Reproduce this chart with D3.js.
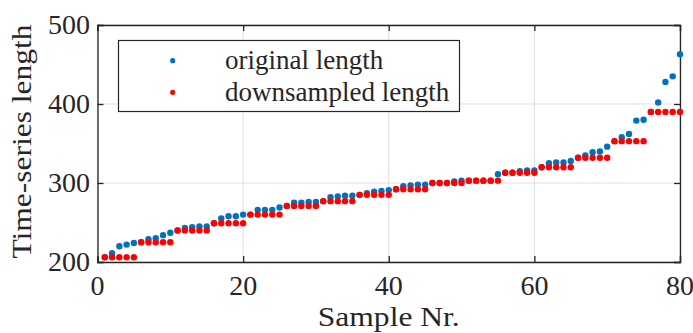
<!DOCTYPE html>
<html><head><meta charset="utf-8">
<script src="https://cdn.jsdelivr.net/npm/d3@7"></script>
<style>
body{margin:0;background:#fff;}
svg{display:block;}
text{font-family:"Liberation Serif","Times New Roman",serif;fill:#262626;}
</style></head>
<body>
<svg id="chart" width="693" height="333"></svg>
<script>
const sampleNr = d3.range(1, 81);
const originalLength = [206,211,220,222,224,225,229,230,234,237,
  240,243,244,245,245,249,255,258,258,260,
  260,266,266,266,269,271,275,275,276,276,
  277,282,283,284,284,285,287,289,290,291,
  292,296,297,298,298,300,300,300,302,303,
  303,303,303,303,311,313,313,315,316,316,
  320,325,326,326,328,332,335,339,340,346,
  353,358,362,379,380,390,402,428,435,463];
const downsampledLength = [206,206,206,206,206,225,225,225,225,225,
  240,240,240,240,240,249,249,249,249,249,
  260,260,260,260,260,271,271,271,271,271,
  277,277,277,277,277,285,285,285,285,285,
  292,292,292,292,292,300,300,300,300,300,
  303,303,303,303,303,313,313,313,313,313,
  320,320,320,320,320,332,332,332,332,332,
  353,353,353,353,353,390,390,390,390,390];
const xTicks = [0,20,40,60,80];
const yTicks = [200,300,400,500];
const seriesNames = ["original length","downsampled length"];
const colors = ["#0072BD","#FF0000"];

const svg = d3.select("#chart");
const L = 97.5, R = 680, T = 25, B = 262;
const x = d3.scaleLinear().domain([0,80]).range([L,R]);
const y = d3.scaleLinear().domain([200,500]).range([B,T]);

// grid
const g = svg.append("g");
g.selectAll(".gx").data(xTicks).enter().append("line")
  .attr("x1",d=>x(d)).attr("x2",d=>x(d)).attr("y1",T).attr("y2",B)
  .attr("stroke","#dfdfdf").attr("stroke-width",1);
g.selectAll(".gy").data(yTicks).enter().append("line")
  .attr("y1",d=>y(d)).attr("y2",d=>y(d)).attr("x1",L).attr("x2",R)
  .attr("stroke","#dfdfdf").attr("stroke-width",1);

// axes with inward ticks
const axB = d3.axisBottom(x).tickValues(xTicks).tickSize(-6).tickFormat("");
const axT = d3.axisTop(x).tickValues(xTicks).tickSize(-6).tickFormat("");
const axL = d3.axisLeft(y).tickValues(yTicks).tickSize(-6).tickFormat("");
const axR = d3.axisRight(y).tickValues(yTicks).tickSize(-6).tickFormat("");
function style(sel){sel.selectAll("path,line").attr("stroke","#262626").attr("stroke-width",1.3);}
svg.append("g").attr("transform",`translate(0,${B})`).call(axB).call(style);
svg.append("g").attr("transform",`translate(0,${T})`).call(axT).call(style);
svg.append("g").attr("transform",`translate(${L},0)`).call(axL).call(style);
svg.append("g").attr("transform",`translate(${R},0)`).call(axR).call(style);

// tick labels
svg.selectAll(".xl").data(xTicks).enter().append("text")
  .attr("x",d=>x(d)).attr("y",295).attr("text-anchor","middle")
  .attr("font-size",28).text(d=>d);
svg.selectAll(".yl").data(yTicks).enter().append("text")
  .attr("x",90).attr("y",d=>y(d)+9).attr("text-anchor","end")
  .attr("font-size",28).text(d=>d);

// axis labels
svg.append("text").attr("x",(L+R)/2).attr("y",326).attr("text-anchor","middle")
  .attr("font-size",27).attr("textLength",142).attr("lengthAdjust","spacingAndGlyphs").text("Sample Nr.");
svg.append("text").attr("transform",`translate(31,${(T+B)/2-2}) rotate(-90)`)
  .attr("text-anchor","middle").attr("font-size",28)
  .attr("textLength",234).attr("lengthAdjust","spacingAndGlyphs").text("Time-series length");

// points
const series = [originalLength, downsampledLength];
series.forEach((vals,i)=>{
  svg.append("g").selectAll("circle").data(sampleNr).enter().append("circle")
    .attr("cx",d=>x(d)).attr("cy",(d,j)=>y(vals[j])).attr("r",3.2)
    .attr("fill",colors[i]);
});

// legend
const lg = svg.append("g");
lg.append("rect").attr("x",118.5).attr("y",40.5).attr("width",341).attr("height",71)
  .attr("fill","#fff").attr("stroke","#262626").attr("stroke-width",1.2);
seriesNames.forEach((n,i)=>{
  const cy = 60.7 + i*31.6;
  lg.append("circle").attr("cx",172.7).attr("cy",cy).attr("r",2.6).attr("fill",colors[i]);
  lg.append("text").attr("x",225).attr("y",cy+8.5).attr("font-size",27).attr("fill","#000").text(n);
});
</script>
</body></html>
